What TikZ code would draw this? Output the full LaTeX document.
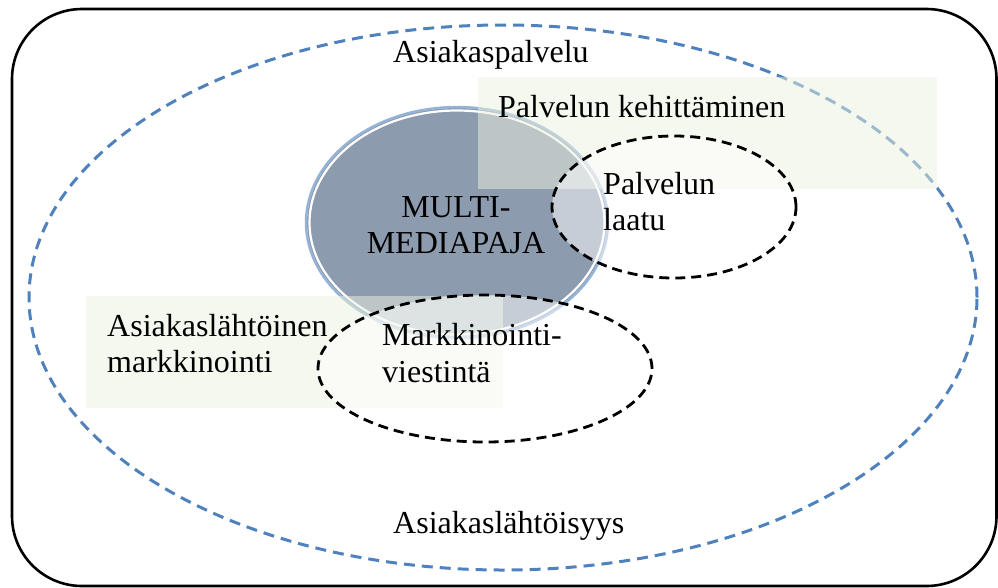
\documentclass[tikz,border=0pt]{standalone}
\usepackage{fontspec}
\setmainfont{Liberation Serif}
\definecolor{outerblue}{HTML}{4F81BD}
\definecolor{slate}{HTML}{8D9BAF}
\definecolor{ringblue}{HTML}{95B3D7}
\definecolor{rectgreen}{HTML}{EBF1DE}
\tikzset{
  lbl/.style={inner sep=0pt, font=\fontsize{32}{36}\selectfont, anchor=base west},
  bluedash/.style={draw=outerblue, line width=3pt, dash pattern=on 11pt off 7pt},
  blackdash/.style={draw=black, line width=2.8pt, dash pattern=on 10pt off 6pt, fill=white, fill opacity=0.5},
  greenbox/.style={fill=rectgreen, fill opacity=0.5, draw=none},
}
\begin{document}
\begin{tikzpicture}[x=1pt,y=-1pt]
\useasboundingbox (0,0) rectangle (998,587);
% outer frame
\draw[line width=2.6pt, rounded corners=70pt] (12,9) rectangle (996.5,586);
% outer dashed ellipse
\draw[bluedash] (503,297.5) ellipse [x radius=474pt, y radius=272.5pt];
% central ellipse
\fill[slate] (457,222.5) ellipse [x radius=150pt, y radius=114.5pt];
\draw[white, line width=2.2pt] (457,222.5) ellipse [x radius=147.5pt, y radius=112pt];
\draw[ringblue, line width=2.4pt] (457,222.5) ellipse [x radius=151pt, y radius=115.5pt];
% translucent boxes
\fill[greenbox] (478,77) rectangle (937,189);
\fill[greenbox] (86,296) rectangle (503,408);
% dashed ellipses
\path[blackdash] (674,207) ellipse [x radius=122pt, y radius=71pt];
\path[blackdash] (485,368.5) ellipse [x radius=167pt, y radius=73.5pt];
% texts
\node[lbl] (asp) at (393,62) {Asiakaspalvelu};
\node[lbl] (pk) at (498,117) {Palvelun kehittäminen};
\node[lbl, anchor=base] (mm1) at (456,217) {MULTI-};
\node[lbl, anchor=base] (mm2) at (456,253) {MEDIAPAJA};
\node[lbl] (pl1) at (603,194) {Palvelun};
\node[lbl] (pl2) at (603,230) {laatu};
\node[lbl] (am1) at (107,336) {Asiakaslähtöinen};
\node[lbl] (am2) at (107,372) {markkinointi};
\node[lbl] (mv1) at (382,345) {Markkinointi-};
\node[lbl] (mv2) at (382,382) {viestintä};
\node[lbl] (al) at (393,533) {Asiakaslähtöisyys};
\end{tikzpicture}
\end{document}
